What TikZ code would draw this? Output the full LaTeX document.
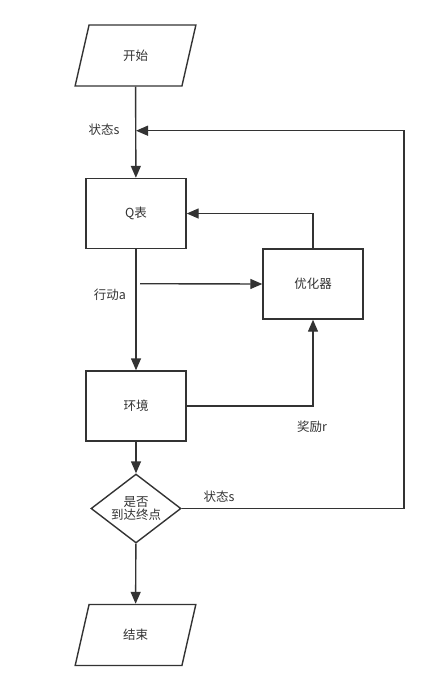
\documentclass[tikz,border=0pt]{standalone}
\usepackage{fontspec}
\setmainfont{Noto Sans CJK SC}
\usepackage{tikz}
\usetikzlibrary{shapes.geometric}
\usetikzlibrary{arrows.meta}
\usetikzlibrary{positioning}
\definecolor{ink}{HTML}{333333}
\tikzset{every picture/.style={line width=1.4pt,draw=ink,text=ink},
  flowbox/.style={draw,rectangle,minimum width=100pt,minimum height=70pt,inner sep=0pt},
  ioshape/.style={draw,trapezium,trapezium left angle=72,trapezium right angle=108,trapezium stretches=true,minimum width=121pt,minimum height=61pt,inner sep=0pt},
  choice/.style={draw,diamond,aspect=1.3,minimum width=90pt,minimum height=69pt,inner sep=0pt,align=center},
  flowarrow/.style={-{Triangle[length=12pt,width=10pt]}},
  tag/.style={font=\fontsize{12.5}{15}\selectfont}}

\begin{document}
\begin{tikzpicture}[x=1pt,y=-1pt,font=\fontsize{12.5}{15}\selectfont]
\useasboundingbox (0,0) rectangle (430,691);
\node[ioshape] (start) at (135.5,55.5) {开始};
\node[flowbox] (qtable) at (136,213.5) {Q表};
\node[flowbox] (optim) at (313,284) {优化器};
\node[flowbox] (env) at (136,406) {环境};
\node[choice] (goal) at (136,508.5) {是否\\[-2pt]到达终点};
\node[ioshape] (finish) at (135.5,635) {结束};
\coordinate (merge) at (136,130.7);
\coordinate (loopR) at (404,130.7);
\coordinate (actStart) at (140,283.7);
% main flow
\draw[flowarrow] (start) -- (qtable);
\draw[flowarrow] (qtable) -- (env);
\draw[flowarrow] (env) -- (goal);
\draw[flowarrow] (goal) -- (finish);
% feedback
\draw[flowarrow] (actStart) -- (optim.west);
\draw[flowarrow] (env.east) -| (optim.south);
\draw[flowarrow] (optim.north) |- (qtable.east);
\draw[flowarrow] (goal.east) -| (loopR) -- (merge);
\node[tag] (stateA) at (104,130) {状态s};
\node[tag] (action) at (110,295) {行动a};
\node[tag] (reward) at (312,427) {奖励r};
\node[tag] (stateB) at (219,497) {状态s};
\end{tikzpicture}
\end{document}
